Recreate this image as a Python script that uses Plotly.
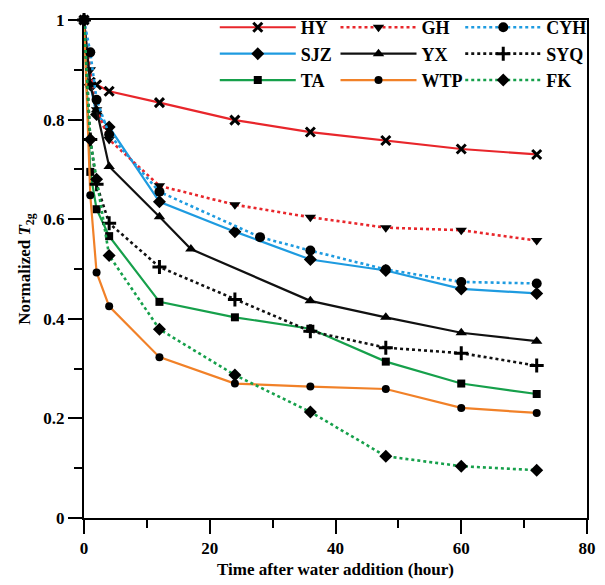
import plotly.graph_objects as go

# ---- data ----
t_std = [0, 1, 2, 4, 12, 24, 36, 48, 60, 72]
t_cyh = [0, 1, 2, 4, 12, 28, 36, 48, 60, 72]
t_yx = [0, 1, 2, 4, 12, 17, 36, 48, 60, 72]

HY = [1.0, 0.875, 0.870, 0.857, 0.834, 0.799, 0.775, 0.758, 0.741, 0.730]
GH = [1.0, 0.900, 0.820, 0.760, 0.667, 0.629, 0.604, 0.583, 0.578, 0.557]
CYH = [1.0, 0.935, 0.840, 0.770, 0.655, 0.564, 0.537, 0.499, 0.474, 0.471]
SJZ = [1.0, 0.870, 0.810, 0.785, 0.635, 0.575, 0.519, 0.497, 0.460, 0.451]
YX = [1.0, 0.870, 0.820, 0.706, 0.605, 0.540, 0.436, 0.403, 0.372, 0.355]
SYQ = [1.0, 0.760, 0.670, 0.592, 0.504, 0.439, 0.375, 0.342, 0.331, 0.306]
TA = [1.0, 0.695, 0.620, 0.566, 0.434, 0.403, 0.380, 0.314, 0.270, 0.249]
WTP = [1.0, 0.648, 0.493, 0.425, 0.323, 0.270, 0.264, 0.259, 0.221, 0.211]
FK = [1.0, 0.760, 0.680, 0.527, 0.379, 0.287, 0.213, 0.124, 0.104, 0.096]

RED = "#e8262b"
BLUE = "#1e9be0"
GREEN = "#16a04b"
ORANGE = "#f18128"
BLACK = "#111111"

series = [
    # name, x, y, color, dash, symbol, size, legend
    ("HY", t_std, HY, RED, "solid", "x-thin", 9, "legend"),
    ("SJZ", t_std, SJZ, BLUE, "solid", "diamond", 10, "legend"),
    ("TA", t_std, TA, GREEN, "solid", "square", 8, "legend"),
    ("GH", t_std, GH, RED, "dot", "triangle-down", 10, "legend2"),
    ("YX", t_yx, YX, BLACK, "solid", "triangle-up", 10, "legend2"),
    ("WTP", t_std, WTP, ORANGE, "solid", "circle", 8, "legend2"),
    ("CYH", t_cyh, CYH, BLUE, "dot", "circle", 10, "legend3"),
    ("SYQ", t_std, SYQ, BLACK, "dot", "cross-thin", 10, "legend3"),
    ("FK", t_std, FK, GREEN, "dot", "diamond", 10, "legend3"),
]

fig = go.Figure()
for name, x, y, col, dash, sym, size, leg in series:
    thin = sym.endswith("-thin")
    fig.add_trace(go.Scatter(
        x=x, y=y, name=name, mode="lines+markers", legend=leg,
        line=dict(color=col, width=2.2 if dash == "solid" else 2.6, dash=dash),
        marker=dict(symbol=sym, size=size, color="black",
                    line=dict(color="black", width=3 if thin else 0)),
        cliponaxis=False,
    ))

font = dict(family="Liberation Serif, Times New Roman, serif", size=17, color="black")
legcommon = dict(font=dict(family=font["family"], size=18, color="black", weight="bold"),
                 bgcolor="rgba(0,0,0,0)", borderwidth=0,
                 yanchor="top", y=1.022, xanchor="left", itemwidth=76,
                 tracegroupgap=0)

fig.update_layout(
    width=605, height=585,
    margin=dict(l=84, r=9, t=10, b=64),
    plot_bgcolor="white", paper_bgcolor="white",
    font=font,
    legend=dict(x=0.260, **legcommon),
    legend2=dict(x=0.500, **legcommon),
    legend3=dict(x=0.748, **legcommon),
    xaxis=dict(
        range=[0, 80], tickvals=[0, 20, 40, 60, 80], ticks="outside", ticklen=14,
        tickwidth=2, tickcolor="black", linewidth=2, linecolor="black",
        mirror=True, showgrid=False, zeroline=False,
        tickfont=dict(size=17, family=font["family"], weight="bold"),
        minor=dict(ticks="outside", ticklen=8, tickwidth=2, tickcolor="black",
                   tickvals=[10, 30, 50, 70], showgrid=False),
        title=dict(text="<b>Time after water addition (hour)</b>", standoff=6,
                   font=dict(size=17, family=font["family"])),
    ),
    yaxis=dict(
        range=[0, 1], tickvals=[0, 0.2, 0.4, 0.6, 0.8, 1], ticks="outside", ticklen=14,
        tickwidth=2, tickcolor="black", linewidth=2, linecolor="black",
        mirror=True, showgrid=False, zeroline=False,
        tickfont=dict(size=17, family=font["family"], weight="bold"),
        minor=dict(ticks="outside", ticklen=8, tickwidth=2, tickcolor="black",
                   tickvals=[0.1, 0.3, 0.5, 0.7, 0.9], showgrid=False),
        title=dict(text="<b>Normalized <i>T</i><sub>2g</sub></b>", standoff=8,
                   font=dict(size=17, family=font["family"])),
    ),
)

fig.write_html("out.html")
